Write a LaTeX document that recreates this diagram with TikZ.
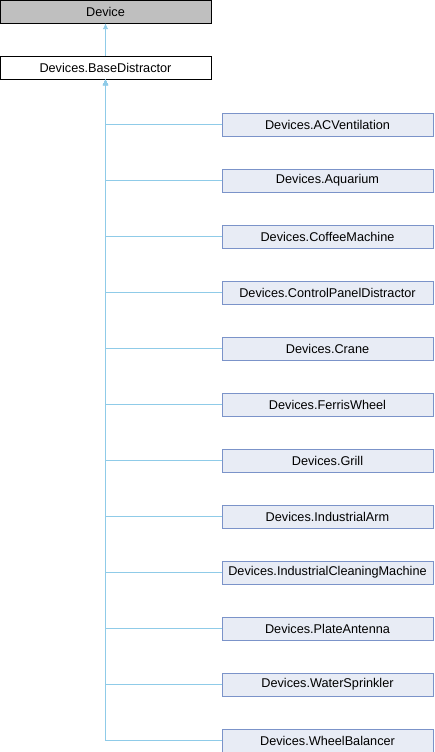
\documentclass[tikz,border=0pt]{standalone}
\usepackage{fontspec}
\setmainfont{Liberation Sans}
\usepackage{tikz}
\usetikzlibrary{arrows,arrows.meta}

\definecolor{boxfill}{HTML}{E8ECF5}
\definecolor{boxline}{HTML}{7B93C9}
\definecolor{basefill}{HTML}{BFBFBF}
\definecolor{linkblue}{HTML}{8FCBE8}

\begin{document}
\begin{tikzpicture}[x=1pt,y=-1pt]

\useasboundingbox (0,0) rectangle (434,752);
\tikzset{cls/.style = {shape=rectangle,draw,inner sep=0pt,minimum width=211pt,minimum height=23pt,font=\fontsize{12.7}{14}\selectfont}}
\tikzset{root/.style = {cls,fill=basefill,draw=black}}
\tikzset{parent/.style = {cls,fill=white,draw=black}}
\tikzset{child/.style = {cls,fill=boxfill,draw=boxline}}
\tikzset{edge/.style = {->,> = {Latex[length=6pt,width=5.5pt]},linkblue,line width=0.9pt}}
% vertices
\node[root] (device) at (105.5,11.5) {Device};
\node[parent] (base) at (105.5,67.5) {Devices.BaseDistractor};
\node[child] (acvent) at (327.5,124.5) {Devices.ACVentilation};
\node[child] (aquarium) at (327.5,180.5) {Devices.Aquarium};
\node[child] (coffee) at (327.5,236.5) {Devices.CoffeeMachine};
\node[child] (panel) at (327.5,292.5) {Devices.ControlPanelDistractor};
\node[child] (crane) at (327.5,348.5) {Devices.Crane};
\node[child] (ferris) at (327.5,404.5) {Devices.FerrisWheel};
\node[child] (grill) at (327.5,460.5) {Devices.Grill};
\node[child] (arm) at (327.5,516.5) {Devices.IndustrialArm};
\node[child] (cleaning) at (327.5,572.5) {Devices.IndustrialCleaningMachine};
\node[child] (antenna) at (327.5,628.5) {Devices.PlateAntenna};
\node[child] (sprinkler) at (327.5,684.5) {Devices.WaterSprinkler};
\node[child] (balancer) at (327.5,740.5) {Devices.WheelBalancer};
%edges
\draw[edge] (base) -- (device);
\draw[edge] (acvent.west) -| (base.south);
\draw[edge] (aquarium.west) -| (base.south);
\draw[edge] (coffee.west) -| (base.south);
\draw[edge] (panel.west) -| (base.south);
\draw[edge] (crane.west) -| (base.south);
\draw[edge] (ferris.west) -| (base.south);
\draw[edge] (grill.west) -| (base.south);
\draw[edge] (arm.west) -| (base.south);
\draw[edge] (cleaning.west) -| (base.south);
\draw[edge] (antenna.west) -| (base.south);
\draw[edge] (sprinkler.west) -| (base.south);
\draw[edge] (balancer.west) -| (base.south);

\end{tikzpicture}
\end{document}
